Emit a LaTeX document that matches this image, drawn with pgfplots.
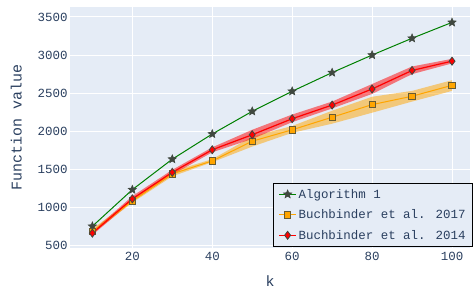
\documentclass[border=0pt]{standalone}
\usepackage{fontspec}
\setmainfont{Liberation Mono}
\usepackage{pgfplots}
\pgfplotsset{compat=1.18}
\usepgfplotslibrary{fillbetween}
\definecolor{plotbg}{HTML}{E5ECF6}
\definecolor{fontc}{HTML}{2A3F5F}
\definecolor{mk}{HTML}{404840}
\definecolor{porange}{HTML}{FFA500}
\definecolor{pgreen}{HTML}{008000}
\definecolor{pred}{HTML}{FF0000}
\pgfdeclareplotmark{fstar}{%
  \pgfpathmoveto{\pgfpointpolar{90}{\pgfplotmarksize}}%
  \pgfpathlineto{\pgfpointpolar{126}{0.45\pgfplotmarksize}}%
  \pgfpathlineto{\pgfpointpolar{162}{\pgfplotmarksize}}%
  \pgfpathlineto{\pgfpointpolar{198}{0.45\pgfplotmarksize}}%
  \pgfpathlineto{\pgfpointpolar{234}{\pgfplotmarksize}}%
  \pgfpathlineto{\pgfpointpolar{270}{0.45\pgfplotmarksize}}%
  \pgfpathlineto{\pgfpointpolar{306}{\pgfplotmarksize}}%
  \pgfpathlineto{\pgfpointpolar{342}{0.45\pgfplotmarksize}}%
  \pgfpathlineto{\pgfpointpolar{18}{\pgfplotmarksize}}%
  \pgfpathlineto{\pgfpointpolar{54}{0.45\pgfplotmarksize}}%
  \pgfpathclose\pgfusepathqfillstroke}
\begin{document}
\begin{tikzpicture}
\begin{axis}[
  scale only axis, width=400bp, height=241bp,
  xmin=4.4, xmax=104.5, ymin=470, ymax=3630,
  xtick={20,40,60,80,100}, ytick={500,1000,...,3500},
  axis background/.style={fill=plotbg},
  axis line style={draw=none},
  major tick length=0pt,
  grid=major, grid style={white, line width=1bp},
  tick label style={font=\fontsize{12.5}{14}\selectfont, text=fontc},
  /pgf/number format/assume math mode=true,
  /pgf/number format/1000 sep={},
  xticklabel style={yshift=-1bp},
  yticklabel style={xshift=1bp},
  xlabel={k}, ylabel={Function value},
  xlabel style={font=\fontsize{15}{17}\selectfont, text=fontc, yshift=-8bp},
  ylabel style={font=\fontsize{15}{17}\selectfont, text=fontc, yshift=9bp},
  legend cell align=left,
  legend style={at={(1.0075,0.004)}, anchor=south east, fill=plotbg, draw=black, line width=1bp,
     font=\fontsize{12.5}{14}\selectfont, text=fontc, row sep=6bp, inner xsep=5bp, inner ysep=4bp},
  legend image post style={line width=1bp},
]
% bands
\addplot[name path=oU, draw=none, forget plot] coordinates {(10,720)(20,1110)(30,1475)(40,1635)(50,1930)(60,2070)(70,2270)(80,2453)(90,2530)(100,2670)};
\addplot[name path=oL, draw=none, forget plot] coordinates {(10,660)(20,1065)(30,1410)(40,1595)(50,1800)(60,1980)(70,2100)(80,2244)(90,2390)(100,2530)};
\addplot[porange, fill opacity=0.5, draw=none, forget plot] fill between[of=oU and oL];
\addplot[name path=rU, draw=none, forget plot] coordinates {(10,690)(20,1150)(30,1495)(40,1790)(50,2020)(60,2220)(70,2390)(80,2620)(90,2850)(100,2950)};
\addplot[name path=rL, draw=none, forget plot] coordinates {(10,640)(20,1085)(30,1430)(40,1725)(50,1900)(60,2120)(70,2300)(80,2490)(90,2750)(100,2890)};
\addplot[pred, fill opacity=0.5, draw=none, forget plot] fill between[of=rU and rL];
% lines
\addplot[pgreen, line width=1bp, mark=fstar, mark size=4.3bp, mark options={draw=mk, fill=mk, line width=0.6bp}] coordinates {
(10,755)(20,1235)(30,1635)(40,1965)(50,2262)(60,2525)(70,2770)(80,3000)(90,3220)(100,3428)};
\addlegendentry{Algorithm 1}
\addplot[porange, line width=1bp, mark=square*, mark size=3.2bp, mark options={draw=mk!80!porange, fill=porange, line width=0.8bp}] coordinates {
(10,685)(20,1085)(30,1442)(40,1612)(50,1870)(60,2020)(70,2185)(80,2350)(90,2460)(100,2603)};
\addlegendentry{Buchbinder et al. 2017}
\addplot[pred, line width=1.2bp, mark=diamond*, mark size=4bp, mark options={draw=mk, fill=pred, line width=0.8bp}] coordinates {
(10,665)(20,1115)(30,1462)(40,1758)(50,1955)(60,2165)(70,2344)(80,2555)(90,2798)(100,2920)};
\addlegendentry{Buchbinder et al. 2014}
\end{axis}
\pgfresetboundingbox
\useasboundingbox (-70bp,-40bp) rectangle (403bp,248bp);
\end{tikzpicture}
\end{document}
